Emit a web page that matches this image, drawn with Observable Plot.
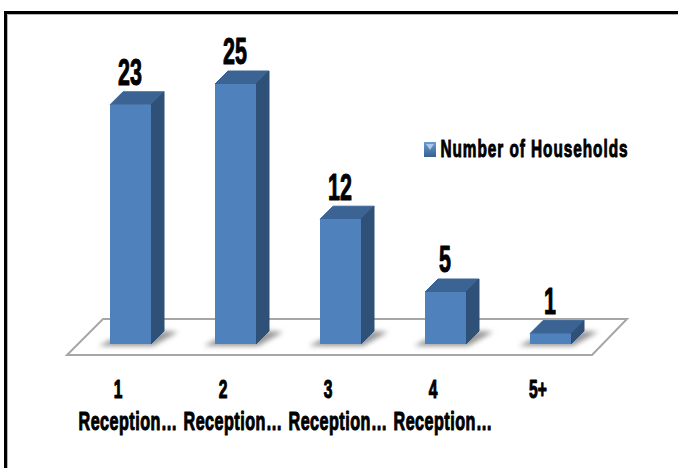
<!DOCTYPE html>
<html><head><meta charset="utf-8">
<script src="https://cdn.jsdelivr.net/npm/d3@7"></script>
<script src="https://cdn.jsdelivr.net/npm/@observablehq/plot@0.6"></script>
<style>
html,body{margin:0;padding:0;background:#fff}
svg{display:block}
</style></head><body>
<div id="chart"></div>
<script>
const categories = ["1 Reception Room","2 Reception Rooms","3 Reception Rooms","4 Reception Rooms","5+"];
const households = [23, 25, 12, 5, 1];
const tickLine1 = ["1","2","3","4","5+"];
const tickLine2 = ["Reception…","Reception…","Reception…","Reception…",""];
const seriesName = ["Number of Households"];

const font = "'Liberation Sans',sans-serif";
const rows = categories.map((c,i)=>({c, v:households[i], t1:tickLine1[i], t2:tickLine2[i]}));
const D = 13; // depth of the 3D extrusion

const bars3d = (index, {x, y}) => {
  const g = d3.create("svg:g");
  const w = x.bandwidth();
  const blur = g.append("defs").append("filter").attr("id","sh").attr("x","-30%").attr("y","-60%").attr("width","160%").attr("height","220%");
  blur.append("feGaussianBlur").attr("stdDeviation",2.5);
  const y0 = y(0);
  const x1 = x(categories[0]), xn = x(categories[categories.length-1]) + w;
  // floor
  g.append("polygon")
    .attr("points",[[x1-43,y0+11],[xn+21,y0+11],[xn+56,y0-25],[x1-7,y0-25]].join(" "))
    .attr("fill","#fff").attr("stroke","#a6a6a6").attr("stroke-width",2);
  rows.forEach(r=>{
    const l = x(r.c), rt = l+w, t = y(r.v);
    g.append("polygon").attr("filter","url(#sh)").attr("fill","#858585").attr("fill-opacity",.85)
      .attr("points",[[l-11,y0+2],[rt+2,y0+2],[rt+D+14,y0-D+1],[rt+D,y0-D],[l,y0-4]].join(" "));
    g.append("polygon").attr("fill","#3b6494").attr("stroke","#3b6494").attr("stroke-linejoin","round")
      .attr("points",[[l,t],[rt,t],[rt+D,t-D],[l+D,t-D]].join(" "));
    g.append("polygon").attr("fill","#2f5077").attr("stroke","#2f5077").attr("stroke-linejoin","round")
      .attr("points",[[rt,t],[rt+D,t-D],[rt+D,y0-D],[rt,y0]].join(" "));
  });
  return g.node();
};

const border = (index, scales, values, {width, height}) => {
  const g = d3.create("svg:g").attr("fill","none");
  g.append("path").attr("stroke","#b5b5b5").attr("stroke-width",1).attr("d",`M7.5,${height}V14.5H${width}`);
  g.append("path").attr("stroke","black").attr("stroke-width",3).attr("d",`M5.5,${height}V12.5H${width}`);
  return g.node();
};

const swatch = () => {
  const g = d3.create("svg:g");
  const gr = g.append("defs").append("linearGradient").attr("id","sw").attr("x1",0).attr("x2",0).attr("y1",0).attr("y2",1);
  gr.append("stop").attr("offset",0).attr("stop-color","#6f9bd0");
  gr.append("stop").attr("offset",1).attr("stop-color","#35608f");
  const sx = 424, sy = 142, w = 12, h = 15;
  g.append("rect").attr("x",sx).attr("y",sy).attr("width",w).attr("height",h).attr("fill","url(#sw)");
  g.append("polygon").attr("fill","#a9c8ec").attr("points",[[sx+2,sy+2],[sx+w-2,sy+2],[sx+w/2,sy+8]].join(" "));
  return g.node();
};

// squeeze glyphs horizontally: the reference uses a heavy condensed face
const squeeze = (k, spacing = 0) => (i, s, v, d, c, next) => {
  const g = next(i, s, v, d, c);
  g.querySelectorAll("text").forEach(t => {
    t.setAttribute("transform", (t.getAttribute("transform") || "") + ` scale(${k},1)`);
    if (spacing) t.setAttribute("letter-spacing", spacing);
  });
  return g;
};

const thick = {fontFamily:font, fontWeight:"bold", fill:"black", stroke:"black", strokeWidth:1.1, textAnchor:"middle"};

const plot = Plot.plot({
  width:678, height:468,
  marginTop:0, marginLeft:0, marginRight:0, marginBottom:0,
  style:{background:"#fff", overflow:"visible"},
  x:{type:"band", domain:categories, range:[78,603], paddingInner:.61, paddingOuter:.305, axis:null},
  y:{domain:[0,25], range:[344,84], axis:null},
  marks:[
    border,
    bars3d,
    Plot.barY(rows,{x:"c", y:"v", fill:"#4f81bd"}),
    Plot.text(rows,{x:"c", y:"v", text:d=>String(d.v), ...thick, fontSize:37, dx:-1, dy:-32, render:squeeze(.58)}),
    Plot.text(rows,{x:"c", y:()=>0, text:"t1", ...thick, fontSize:26, dx:-13, dy:45, render:squeeze(.6)}),
    Plot.text(rows,{x:"c", y:()=>0, text:"t2", ...thick, fontSize:26, dx:-3, dy:77, render:squeeze(.62, 0.8)}),
    swatch,
    Plot.text(seriesName,{frameAnchor:"top-left", lineAnchor:"middle", dx:440, dy:149, text:d=>d, ...thick, strokeWidth:1, fontSize:24, textAnchor:"start", render:squeeze(.64, 1.5)})
  ]
});
document.getElementById("chart").append(plot);
</script>
</body></html>
